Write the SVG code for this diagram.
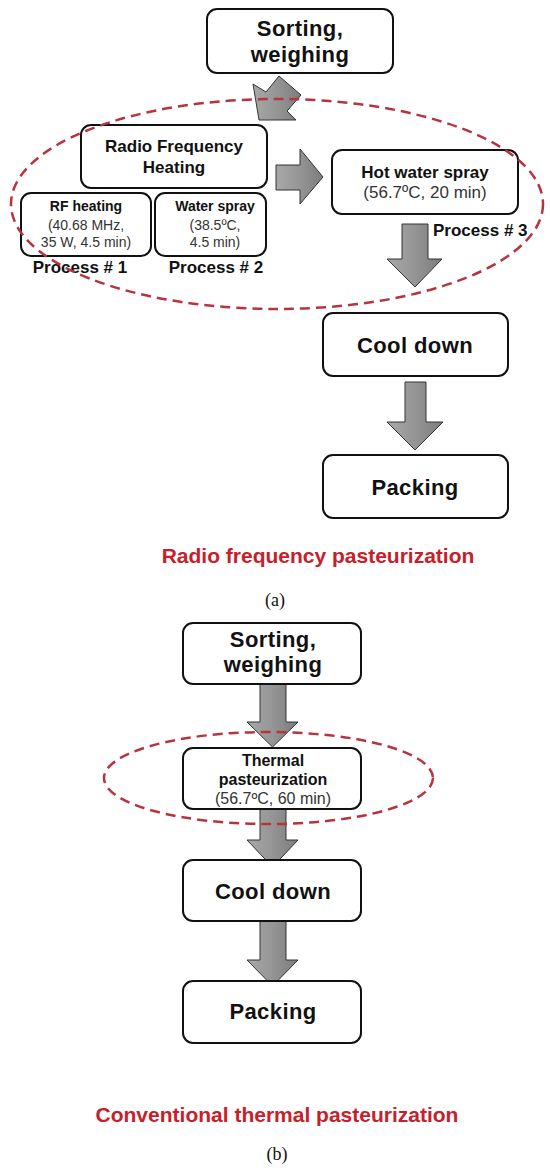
<svg xmlns="http://www.w3.org/2000/svg" width="550" height="1171" viewBox="0 0 550 1171">
<defs>
<linearGradient id="ag" x1="0" y1="0" x2="1" y2="0">
<stop offset="0" stop-color="#a8a8a8"/>
<stop offset="0.5" stop-color="#959595"/>
<stop offset="1" stop-color="#7c7c7c"/>
</linearGradient>
</defs>
<style>
.box{fill:#fff;stroke:#111;stroke-width:2}
.arrow{fill:url(#ag);stroke:#333;stroke-width:1;stroke-linejoin:miter}
.ell{fill:none;stroke:#b83340;stroke-width:2.5;stroke-dasharray:10 6}
.b{font-family:"Liberation Sans",Arial,sans-serif;font-weight:bold;fill:#111;text-anchor:middle}
.r{font-family:"Liberation Sans",Arial,sans-serif;fill:#333;text-anchor:middle}
.big{font-size:22px;letter-spacing:0.4px}
.mid{font-size:17px}
.sm{font-size:14px}
.md16{font-size:16px}
.title{font-family:"Liberation Sans",Arial,sans-serif;font-weight:bold;font-size:21px;fill:#c8202a;text-anchor:middle}
.cap{font-family:"Liberation Serif","Times New Roman",serif;font-size:18px;fill:#111;text-anchor:middle}
</style>
<rect width="550" height="1171" fill="#fff"/>
<g id="connectors">
<polygon class="arrow" points="259,120 253,84 266,92 279,76 301,95 287,111 296,120"/>
<polygon class="arrow" points="276,165 300,165 300,149 323,177 300,204 300,190 276,190"/>
<polygon class="arrow" points="402,224 428,224 428,259 442,259 415,287 387,259 402,259"/>
<polygon class="arrow" points="405,382 426,382 426,422 443,422 415,450 387,422 405,422"/>
<polygon class="arrow" points="260,684 286,684 286,722 298,722 272.5,747 247,722 260,722"/>
<polygon class="arrow" points="260,809 286,809 286,840 298,840 272.5,867 247,840 260,840"/>
<polygon class="arrow" points="260,921 286,921 286,960 298,960 272.5,986 247,960 260,960"/>
</g>
<g id="sort_a">
<rect class="box" x="207" y="9" width="186" height="64" rx="10"/>
<text class="b big" x="300" y="36">Sorting,</text>
<text class="b big" x="300" y="62">weighing</text>
</g>
<g id="rf_main">
<rect class="box" x="81" y="125" width="186" height="63" rx="10"/>
<text class="b mid" x="174" y="152">Radio Frequency</text>
<text class="b mid" x="174" y="173">Heating</text>
</g>
<g id="rf1">
<rect class="box" x="21" y="193" width="130" height="63" rx="10"/>
<text class="b sm" x="86" y="211">RF heating</text>
<text class="r sm" x="86" y="230">(40.68 MHz,</text>
<text class="r sm" x="86" y="247">35 W, 4.5 min)</text>
</g>
<g id="rf2">
<rect class="box" x="155" y="193" width="111" height="63" rx="10"/>
<text class="b sm" x="215" y="211">Water spray</text>
<text class="r sm" x="215" y="230">(38.5ºC,</text>
<text class="r sm" x="215" y="247">4.5 min)</text>
</g>
<g id="labels_a">
<text class="b mid" x="80" y="273">Process # 1</text>
<text class="b mid" x="216" y="273">Process # 2</text>
<text class="b mid" x="433" y="236" style="text-anchor:start">Process # 3</text>
</g>
<g id="hotwater">
<rect class="box" x="332" y="150" width="186" height="64" rx="10"/>
<text class="b mid" x="425" y="178">Hot water spray</text>
<text class="r mid" x="425" y="198">(56.7ºC, 20 min)</text>
</g>
<g id="cool_a">
<rect class="box" x="323" y="313" width="185" height="63" rx="10"/>
<text class="b big" x="415" y="353">Cool down</text>
</g>
<g id="pack_a">
<rect class="box" x="323" y="455" width="185" height="63" rx="10"/>
<text class="b big" x="415" y="495">Packing</text>
</g>
<g id="caption_a">
<text class="title" x="318" y="563">Radio frequency pasteurization</text>
<text class="cap" x="275" y="606">(a)</text>
</g>
<g id="sort_b">
<rect class="box" x="183" y="623" width="178" height="61" rx="10"/>
<text class="b big" x="273" y="647">Sorting,</text>
<text class="b big" x="273" y="672">weighing</text>
</g>
<g id="thermal">
<rect class="box" x="183" y="748" width="178" height="61" rx="10"/>
<text class="b md16" x="273" y="766">Thermal</text>
<text class="b md16" x="273" y="785">pasteurization</text>
<text class="r md16" x="273" y="804">(56.7ºC, 60 min)</text>
</g>
<g id="cool_b">
<rect class="box" x="183" y="860" width="178" height="61" rx="10"/>
<text class="b big" x="273" y="899">Cool down</text>
</g>
<g id="pack_b">
<rect class="box" x="183" y="981" width="178" height="62" rx="10"/>
<text class="b big" x="273" y="1019">Packing</text>
</g>
<g id="caption_b">
<text class="title" x="277" y="1122">Conventional thermal pasteurization</text>
<text class="cap" x="277" y="1160">(b)</text>
</g>
<g id="highlights">
<ellipse class="ell" cx="277" cy="204" rx="266" ry="105"/>
<ellipse class="ell" cx="268.5" cy="778" rx="164.5" ry="46"/>
</g>
</svg>
